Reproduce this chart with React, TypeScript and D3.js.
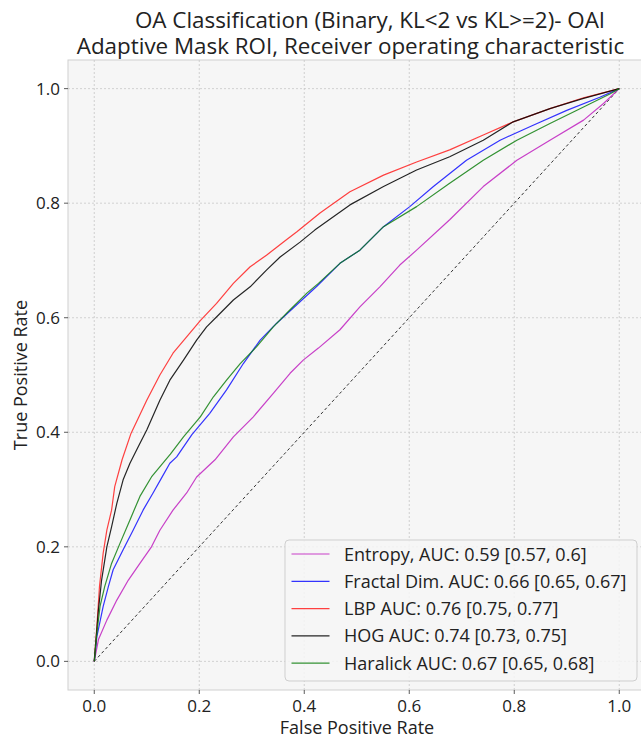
import React from "react";
import * as d3 from "d3";

const seriesNames = [
  "Entropy, AUC: 0.59 [0.57, 0.6]",
  "Fractal Dim. AUC: 0.66 [0.65, 0.67]",
  "LBP AUC: 0.76 [0.75, 0.77]",
  "HOG AUC: 0.74 [0.73, 0.75]",
  "Haralick AUC: 0.67 [0.65, 0.68]",
];
const seriesColors = ["#c020c0", "#1010ff", "#ff2020", "#000000", "#108010"];

const entropyFpr = [0, 0.008, 0.024, 0.043, 0.065, 0.087, 0.109, 0.125, 0.15, 0.176, 0.195, 0.23, 0.265, 0.303, 0.341, 0.373, 0.398, 0.427, 0.468, 0.506, 0.544, 0.582, 0.614, 0.677, 0.741, 0.805, 0.868, 0.932, 0.97, 1];
const entropyTpr = [0, 0.038, 0.072, 0.107, 0.142, 0.171, 0.2, 0.229, 0.264, 0.294, 0.322, 0.352, 0.392, 0.427, 0.468, 0.503, 0.526, 0.547, 0.579, 0.619, 0.654, 0.692, 0.718, 0.771, 0.829, 0.875, 0.91, 0.945, 0.974, 1];

const fractalFpr = [0, 0.005, 0.017, 0.027, 0.036, 0.055, 0.074, 0.093, 0.112, 0.128, 0.144, 0.157, 0.186, 0.22, 0.252, 0.284, 0.316, 0.347, 0.379, 0.424, 0.468, 0.506, 0.551, 0.601, 0.646, 0.709, 0.773, 0.836, 0.9, 0.963, 1];
const fractalTpr = [0, 0.043, 0.096, 0.131, 0.16, 0.195, 0.229, 0.264, 0.294, 0.32, 0.346, 0.357, 0.396, 0.433, 0.474, 0.52, 0.561, 0.59, 0.617, 0.655, 0.695, 0.718, 0.759, 0.794, 0.829, 0.875, 0.91, 0.936, 0.962, 0.985, 1];

const lbpFpr = [0, 0.005, 0.01, 0.017, 0.024, 0.033, 0.039, 0.053, 0.07, 0.084, 0.1, 0.125, 0.15, 0.182, 0.202, 0.233, 0.265, 0.297, 0.328, 0.366, 0.386, 0.43, 0.487, 0.551, 0.614, 0.677, 0.741, 0.798, 0.868, 0.932, 1];
const lbpTpr = [0, 0.061, 0.131, 0.189, 0.229, 0.264, 0.305, 0.352, 0.398, 0.425, 0.456, 0.5, 0.538, 0.573, 0.595, 0.625, 0.66, 0.689, 0.709, 0.736, 0.75, 0.783, 0.82, 0.849, 0.872, 0.893, 0.919, 0.942, 0.965, 0.984, 1];

const hogFpr = [0, 0.008, 0.014, 0.024, 0.033, 0.043, 0.055, 0.068, 0.084, 0.1, 0.125, 0.144, 0.17, 0.195, 0.214, 0.239, 0.265, 0.297, 0.328, 0.354, 0.392, 0.42, 0.487, 0.551, 0.614, 0.677, 0.741, 0.798, 0.868, 0.932, 1];
const hogTpr = [0, 0.09, 0.142, 0.2, 0.235, 0.276, 0.317, 0.346, 0.375, 0.404, 0.456, 0.491, 0.526, 0.561, 0.584, 0.607, 0.631, 0.654, 0.683, 0.706, 0.732, 0.753, 0.797, 0.829, 0.858, 0.881, 0.91, 0.942, 0.965, 0.983, 1];

const haralickFpr = [0, 0.005, 0.011, 0.02, 0.033, 0.049, 0.068, 0.087, 0.109, 0.128, 0.145, 0.17, 0.202, 0.227, 0.252, 0.278, 0.309, 0.341, 0.373, 0.405, 0.427, 0.468, 0.506, 0.551, 0.614, 0.677, 0.741, 0.805, 0.868, 0.932, 0.983, 1];
const haralickTpr = [0, 0.049, 0.096, 0.131, 0.171, 0.206, 0.247, 0.288, 0.322, 0.343, 0.362, 0.392, 0.427, 0.462, 0.491, 0.52, 0.549, 0.584, 0.614, 0.643, 0.66, 0.695, 0.718, 0.759, 0.794, 0.835, 0.875, 0.91, 0.939, 0.968, 0.991, 1];

const tickValues = [0, 0.2, 0.4, 0.6, 0.8, 1.0];
const tickLabels = ["0.0", "0.2", "0.4", "0.6", "0.8", "1.0"];
const chanceLine = [0, 1];

const titleLines = [
  "OA Classification (Binary, KL<2 vs KL>=2)- OAI",
  "Adaptive Mask ROI, Receiver operating characteristic",
];

const W = 641;
const H = 740;
const FONT = "'Open Sans', 'DejaVu Sans', sans-serif";

export default function App() {
  const left = 68, right = 645.5, top = 60, bottom = 690;
  const x = d3.scaleLinear().domain([-0.05, 1.05]).range([left, right]);
  const y = d3.scaleLinear().domain([-0.05, 1.05]).range([bottom, top]);

  const allFpr = [entropyFpr, fractalFpr, lbpFpr, hogFpr, haralickFpr];
  const allTpr = [entropyTpr, fractalTpr, lbpTpr, hogTpr, haralickTpr];

  const line = d3
    .line<[number, number]>()
    .x((d) => x(d[0]))
    .y((d) => y(d[1]));

  const series = allFpr.map((f, i) => f.map((v, j) => [v, allTpr[i][j]] as [number, number]));
  const chance = chanceLine.map((v) => [v, v] as [number, number]);

  const legendX = 285, legendY = 540, legendW = 352, legendH = 141;
  const rowY0 = 554, rowStep = 27.3;

  return (
    <svg
      width={W}
      height={H}
      style={{ position: "absolute", left: 0, top: 0, display: "block", background: "#fff" }}
      fontFamily={FONT}
    >
      <defs>
        <clipPath id="plotclip">
          <rect x={left} y={top} width={right - left} height={bottom - top} />
        </clipPath>
      </defs>
      <rect x={left} y={top} width={right - left} height={bottom - top} fill="#f6f6f6" stroke="#d0d0d0" strokeWidth={1} />
      <g stroke="#c8c8c8" strokeWidth={0.8} strokeDasharray="2,2">
        {tickValues.map((t, i) => (
          <line key={"gx" + i} x1={x(t)} x2={x(t)} y1={top} y2={bottom} />
        ))}
        {tickValues.map((t, i) => (
          <line key={"gy" + i} x1={left} x2={right} y1={y(t)} y2={y(t)} />
        ))}
      </g>
      <g stroke="#333" strokeWidth={0.8}>
        {tickValues.map((t, i) => (
          <line key={"tx" + i} x1={x(t)} x2={x(t)} y1={bottom} y2={bottom + 4} />
        ))}
        {tickValues.map((t, i) => (
          <line key={"ty" + i} x1={left - 4} x2={left} y1={y(t)} y2={y(t)} />
        ))}
      </g>
      <g fontSize={17} fill="#222">
        {tickLabels.map((s, i) => (
          <text key={"lx" + i} x={x(tickValues[i])} y={bottom + 22} textAnchor="middle">
            {s}
          </text>
        ))}
        {tickLabels.map((s, i) => (
          <text key={"ly" + i} x={left - 8} y={y(tickValues[i]) + 6} textAnchor="end">
            {s}
          </text>
        ))}
      </g>
      <g clipPath="url(#plotclip)">
        <path d={line(chance) || ""} fill="none" stroke="#333" strokeWidth={1} strokeDasharray="3,2.5" />
        {series.map((s, i) => (
          <path key={"s" + i} d={line(s) || ""} fill="none" stroke={seriesColors[i]} strokeOpacity={0.85} strokeWidth={1.2} strokeLinejoin="round" />
        ))}
      </g>
      <rect x={legendX} y={legendY} width={legendW} height={legendH} rx={4} fill="#f6f6f6" fillOpacity={0.85} stroke="#cfcfcf" strokeWidth={1} />
      {seriesNames.map((n, i) => (
        <g key={"lg" + i}>
          <line x1={291.5} x2={329.5} y1={rowY0 + i * rowStep} y2={rowY0 + i * rowStep} stroke={seriesColors[i]} strokeOpacity={0.85} strokeWidth={1.2} />
          <text x={344} y={rowY0 + i * rowStep + 6.5} fontSize={18} fill="#222">
            {n}
          </text>
        </g>
      ))}
      <text x={357} y={734} textAnchor="middle" fontSize={18} fill="#222">
        False Positive Rate
      </text>
      <text transform={`translate(27, ${(top + bottom) / 2}) rotate(-90)`} textAnchor="middle" fontSize={18} fill="#222">
        True Positive Rate
      </text>
      <text x={370} y={28} textAnchor="middle" fontSize={22.4} fill="#222">
        {titleLines[0]}
      </text>
      <text x={350.5} y={53.5} textAnchor="middle" fontSize={22.4} fill="#222">
        {titleLines[1]}
      </text>
    </svg>
  );
}
